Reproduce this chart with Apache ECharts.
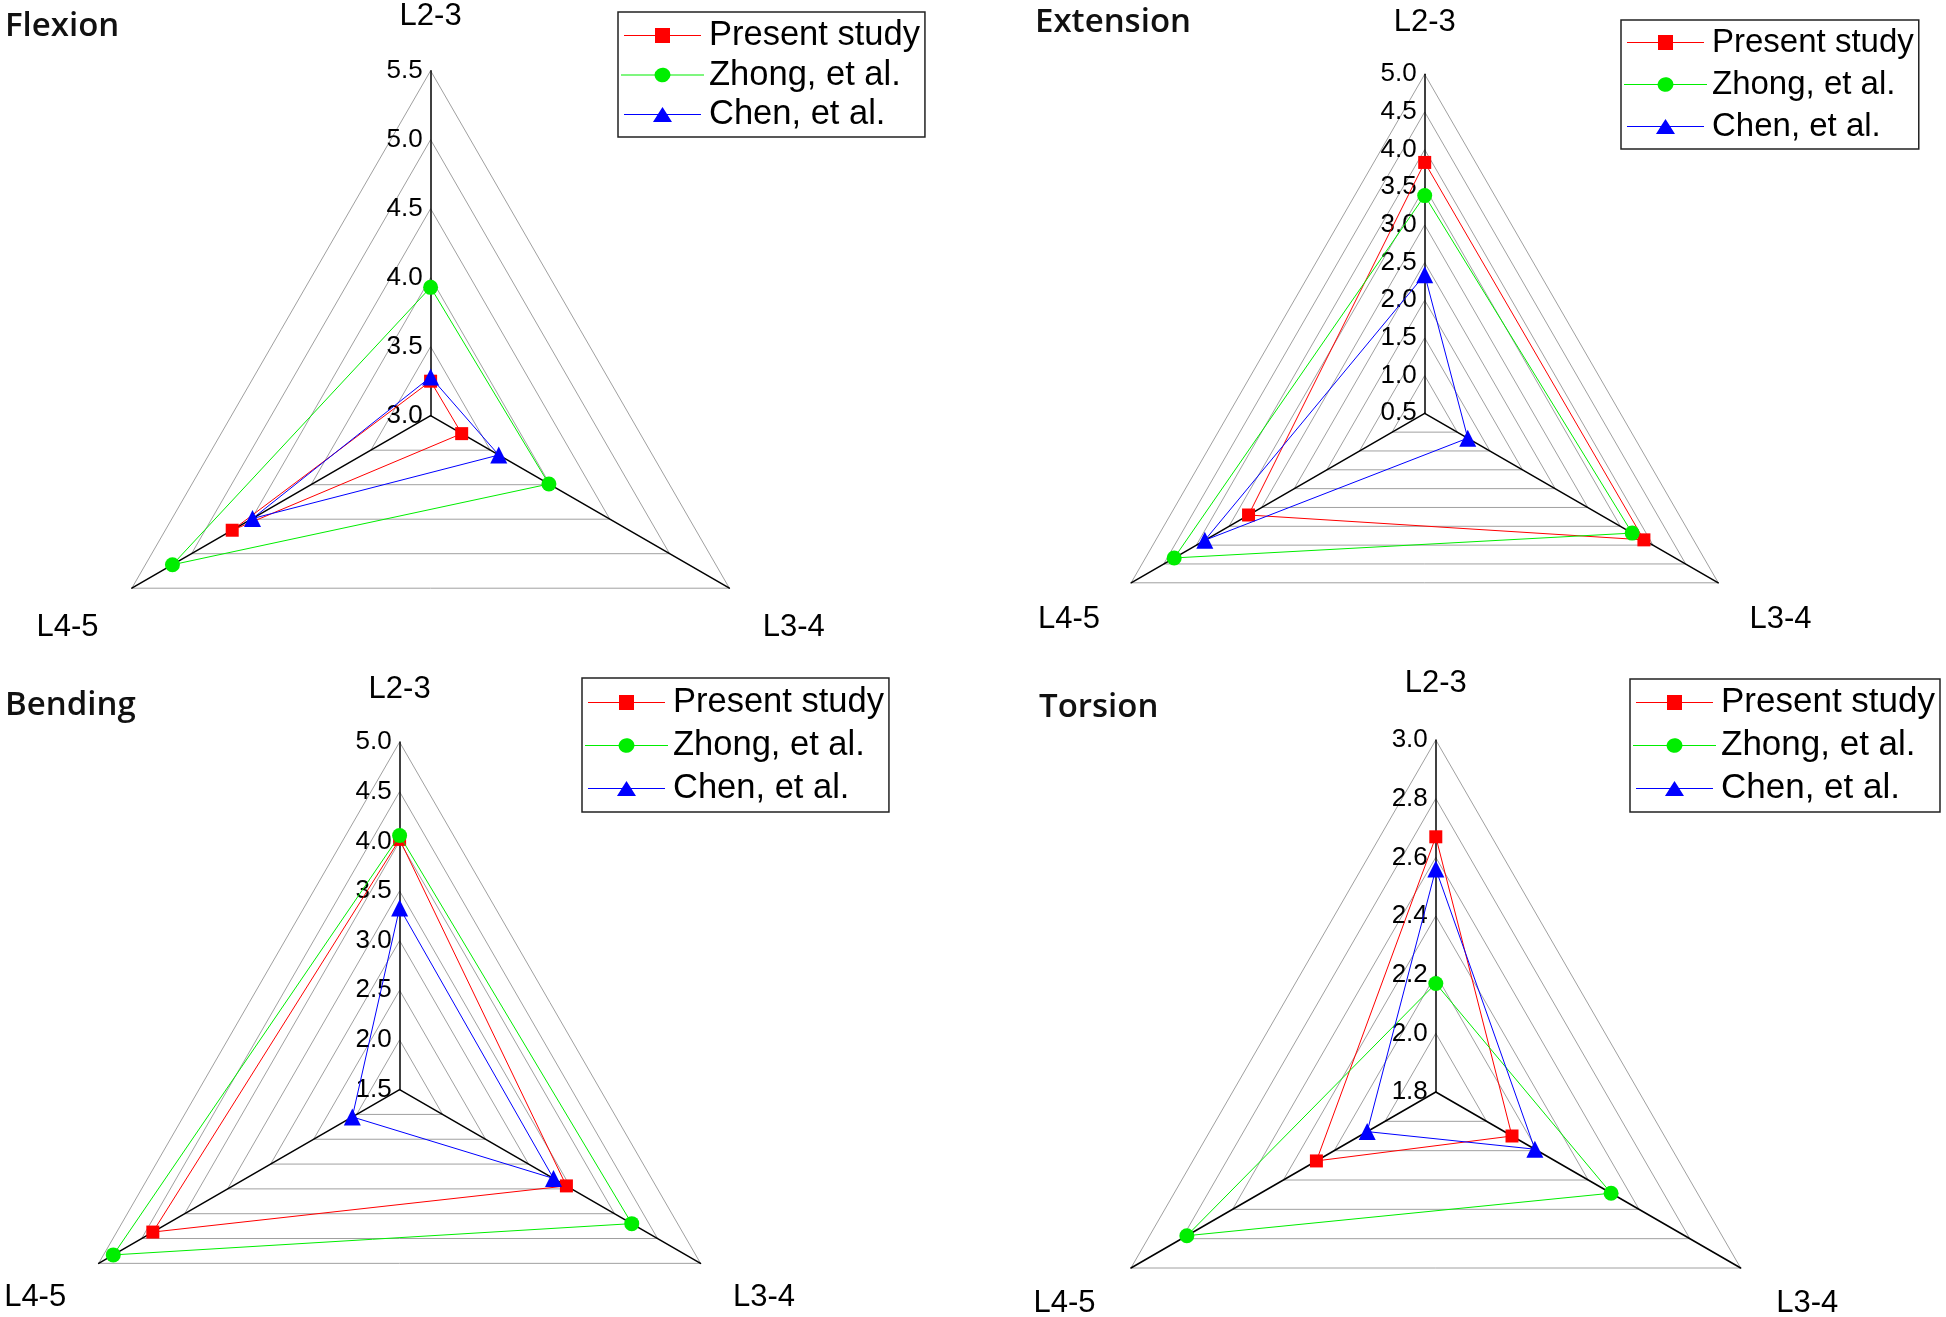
<!DOCTYPE html>
<html>
<head>
<meta charset="utf-8">
<script src="https://cdn.jsdelivr.net/npm/echarts@6/dist/echarts.min.js"></script>
<style>
html,body{margin:0;padding:0;background:#fff;}
#chart{width:1946px;height:1317px;}
</style>
</head>
<body>
<div id="chart"></div>
<script>
// Categories (spinal levels) — values below are given in this order
const categories = ['L2-3', 'L3-4', 'L4-5'];
const seriesNames = ['Present study', 'Zhong, et al.', 'Chen, et al.'];
const panelTitles = ['Flexion', 'Extension', 'Bending', 'Torsion'];

// Axis ranges (tick labels run from min to max)
const axisMin = [3.0, 0.5, 1.5, 1.8];
const axisMax = [5.5, 5.0, 5.0, 3.0];
const axisSplits = [5, 9, 7, 6];

// Values [L2-3, L3-4, L4-5]
const flexionPresent = [3.25, 3.26, 4.66];
const flexionZhong   = [3.93, 3.99, 5.16];
const flexionChen    = [3.28, 3.57, 4.49];

const extensionPresent = [3.83, 3.86, 3.20];
const extensionZhong   = [3.39, 3.68, 4.34];
const extensionChen    = [2.34, 1.16, 3.87];

const bendingPresent = [4.02, 3.44, 4.37];
const bendingZhong   = [4.06, 4.20, 4.83];
const bendingChen    = [3.33, 3.29, 2.05];

const torsionPresent = [2.67, 2.10, 2.27];
const torsionZhong   = [2.17, 2.49, 2.78];
const torsionChen    = [2.56, 2.19, 2.07];

const panelData = [
  [flexionPresent, flexionZhong, flexionChen],
  [extensionPresent, extensionZhong, extensionChen],
  [bendingPresent, bendingZhong, bendingChen],
  [torsionPresent, torsionZhong, torsionChen]
];

// ---- styling / layout ----
const colors = ['#ff0000', '#00ee00', '#0000ff'];
const symbols = ['rect', 'circle', 'triangle'];
const symbolSizes = [13, 15, 17];
const legendIcons = [
  'path://M0,7 L31,7 L31,0 L46,0 L46,7 L77,7 L77,8 L46,8 L46,15 L31,15 L31,8 L0,8 Z',
  'path://M0,7 L31.1,7 A7.5,7.5 0 0 1 45.9,7 L77,7 L77,8 L45.9,8 A7.5,7.5 0 0 1 31.1,8 L0,8 Z',
  'path://M0,7 L34,7 L38.5,0 L43,7 L77,7 L77,8 L43.6,8 L48,15 L29,15 L33.4,8 L0,8 Z'
];
// radar order is counterclockwise from top: L2-3, L4-5, L3-4
const radarOrder = [0, 2, 1];

const layouts = [
  {cx: 430.6, cy: 415.7, r: 345, title: [0, 26], legend: [618, 12], gap: 4.5, pad: [6, 5, 5, 3], font: 34.5, nameGap: 38.5, drop: 20},
  {cx: 1424.7, cy: 413.3, r: 339, title: [1030, 22], legend: [1621, 20], gap: 9, pad: [6, 5, 6, 3], font: 33, nameGap: 36, drop: 18.5},
  {cx: 399.6, cy: 1089.6, r: 347.5, title: [0, 705], legend: [582, 678], gap: 8, pad: [7, 5, 6, 3], font: 34.5, nameGap: 37.5, drop: 15},
  {cx: 1435.8, cy: 1092, r: 352, title: [1034, 707], legend: [1630, 679], gap: 8, pad: [6, 5, 6, 3], font: 35, nameGap: 41, drop: 15}
];

const radar = [], series = [], legend = [], title = [];
layouts.forEach(function (L, p) {
  radar.push({
    center: [L.cx, L.cy],
    radius: L.r,
    shape: 'polygon',
    startAngle: 90,
    splitNumber: axisSplits[p],
    indicator: radarOrder.map(function (k, j) {
      const ind = {name: categories[k], min: axisMin[p], max: axisMax[p]};
      if (j !== 0) ind.axisLabel = {show: false};
      return ind;
    }),
    axisName: {
      color: '#000', fontSize: 31, fontFamily: 'Liberation Sans, Arial, sans-serif',
      formatter: function (name) {
        return name === categories[0] ? name : '{low|' + name + '}';
      },
      rich: {
        low: {
          color: '#000', fontSize: 31, fontFamily: 'Liberation Sans, Arial, sans-serif',
          padding: [2 * L.drop, 0, 0, 0]
        }
      }
    },
    nameGap: L.nameGap,
    axisLine: {lineStyle: {color: '#000', width: 1.5}},
    axisTick: {show: false},
    splitLine: {lineStyle: {color: '#a0a0a0', width: 1}},
    splitArea: {show: false},
    axisLabel: {
      show: true, color: '#000', fontSize: 26, margin: 8,
      fontFamily: 'Liberation Sans, Arial, sans-serif',
      formatter: function (v) { return Number(v).toFixed(1); }
    }
  });
  title.push({
    text: panelTitles[p], left: L.title[0], top: L.title[1] - 21,
    textStyle: {fontFamily: 'Open Sans', fontWeight: 600, fontSize: 33, color: '#111'}
  });
  legend.push({
    orient: 'vertical', left: L.legend[0], top: L.legend[1],
    padding: L.pad, itemGap: L.gap, itemWidth: 83, itemHeight: 15,
    borderColor: '#222', borderWidth: 1.5,
    textStyle: {fontFamily: 'Liberation Sans, Arial, sans-serif', fontSize: L.font, color: '#000'},
    data: seriesNames.map(function (n, s) {
      return {name: n, icon: legendIcons[s], itemStyle: {color: colors[s], borderWidth: 0}};
    })
  });
  panelData[p].forEach(function (vals, s) {
    series.push({
      type: 'radar', radarIndex: p, z: 2 + s,
      symbol: symbols[s], symbolSize: symbolSizes[s],
      lineStyle: {color: colors[s], width: 1},
      itemStyle: {color: colors[s]},
      data: [{name: seriesNames[s], value: radarOrder.map(function (k) { return vals[k]; })}]
    });
  });
});

const chart = echarts.init(document.getElementById('chart'));
chart.setOption({
  animation: false,
  backgroundColor: '#fff',
  title: title,
  radar: radar,
  legend: legend,
  series: series
});
</script>
</body>
</html>
